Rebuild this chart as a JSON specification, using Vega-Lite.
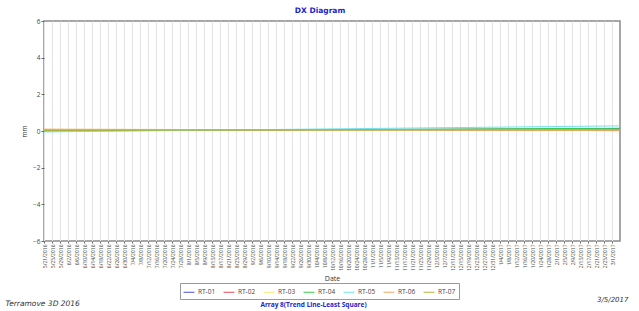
{
  "$schema": "https://vega.github.io/schema/vega-lite/v6.json",
  "width": 576,
  "height": 220,
  "autosize": "none",
  "padding": {"left": 44, "top": 21, "right": 19, "bottom": 70},
  "background": "white",
  "title": {"text": "DX Diagram", "anchor": "middle", "frame": "group", "dx": -12, "offset": 4, "fontSize": 7.5, "font": "DejaVu Sans", "fontWeight": "bold", "color": "#2222cc"},
  "config": {
    "view": {"stroke": "#8a8a8a", "strokeWidth": 1.5},
    "axis": {"labelFont": "Open Sans", "titleFont": "Open Sans", "labelColor": "#444", "titleColor": "#333", "domain": false, "tickColor": "#666"}
  },
  "data": {"values": [
    {"series": "RT-01", "date": "2016-05-21", "value": 0.02},
    {"series": "RT-01", "date": "2017-03-05", "value": 0.12},
    {"series": "RT-02", "date": "2016-05-21", "value": 0.08},
    {"series": "RT-02", "date": "2017-03-05", "value": 0.05},
    {"series": "RT-03", "date": "2016-05-21", "value": 0.06},
    {"series": "RT-03", "date": "2017-03-05", "value": 0.08},
    {"series": "RT-04", "date": "2016-05-21", "value": 0.0},
    {"series": "RT-04", "date": "2017-03-05", "value": 0.15},
    {"series": "RT-05", "date": "2016-05-21", "value": -0.05},
    {"series": "RT-05", "date": "2017-03-05", "value": 0.28},
    {"series": "RT-06", "date": "2016-05-21", "value": 0.1},
    {"series": "RT-06", "date": "2017-03-05", "value": 0.02},
    {"series": "RT-07", "date": "2016-05-21", "value": 0.03},
    {"series": "RT-07", "date": "2017-03-05", "value": 0.08}
  ]},
  "layer": [
    {
      "mark": {"type": "line", "strokeWidth": 1},
      "encoding": {
        "x": {
          "field": "date", "type": "temporal",
          "scale": {"type": "utc", "domain": [{"year": 2016, "month": 5, "date": 21, "utc": true}, {"year": 2017, "month": 3, "date": 5, "utc": true}]},
          "axis": {
            "title": "Date", "titleFontSize": 7, "titleFontWeight": "normal", "titleY": 37, "titleBaseline": "middle",
            "format": "%-m/%-d/%Y", "labelAngle": -90, "labelFontSize": 5, "labelPadding": 1, "labelOverlap": false, "labelFlush": false,
            "tickSize": 2, "grid": true, "gridColor": "#e4e4e4", "gridWidth": 1,
            "values": [
              {"year": 2016, "month": 5, "date": 21, "utc": true}, {"year": 2016, "month": 5, "date": 25, "utc": true}, {"year": 2016, "month": 5, "date": 29, "utc": true},
              {"year": 2016, "month": 6, "date": 2, "utc": true}, {"year": 2016, "month": 6, "date": 6, "utc": true}, {"year": 2016, "month": 6, "date": 10, "utc": true},
              {"year": 2016, "month": 6, "date": 14, "utc": true}, {"year": 2016, "month": 6, "date": 18, "utc": true}, {"year": 2016, "month": 6, "date": 22, "utc": true},
              {"year": 2016, "month": 6, "date": 26, "utc": true}, {"year": 2016, "month": 6, "date": 30, "utc": true}, {"year": 2016, "month": 7, "date": 4, "utc": true},
              {"year": 2016, "month": 7, "date": 8, "utc": true}, {"year": 2016, "month": 7, "date": 12, "utc": true}, {"year": 2016, "month": 7, "date": 16, "utc": true},
              {"year": 2016, "month": 7, "date": 20, "utc": true}, {"year": 2016, "month": 7, "date": 24, "utc": true}, {"year": 2016, "month": 7, "date": 28, "utc": true},
              {"year": 2016, "month": 8, "date": 1, "utc": true}, {"year": 2016, "month": 8, "date": 5, "utc": true}, {"year": 2016, "month": 8, "date": 9, "utc": true},
              {"year": 2016, "month": 8, "date": 13, "utc": true}, {"year": 2016, "month": 8, "date": 17, "utc": true}, {"year": 2016, "month": 8, "date": 21, "utc": true},
              {"year": 2016, "month": 8, "date": 25, "utc": true}, {"year": 2016, "month": 8, "date": 29, "utc": true}, {"year": 2016, "month": 9, "date": 2, "utc": true},
              {"year": 2016, "month": 9, "date": 6, "utc": true}, {"year": 2016, "month": 9, "date": 10, "utc": true}, {"year": 2016, "month": 9, "date": 14, "utc": true},
              {"year": 2016, "month": 9, "date": 18, "utc": true}, {"year": 2016, "month": 9, "date": 22, "utc": true}, {"year": 2016, "month": 9, "date": 26, "utc": true},
              {"year": 2016, "month": 9, "date": 30, "utc": true}, {"year": 2016, "month": 10, "date": 4, "utc": true}, {"year": 2016, "month": 10, "date": 8, "utc": true},
              {"year": 2016, "month": 10, "date": 12, "utc": true}, {"year": 2016, "month": 10, "date": 16, "utc": true}, {"year": 2016, "month": 10, "date": 20, "utc": true},
              {"year": 2016, "month": 10, "date": 24, "utc": true}, {"year": 2016, "month": 10, "date": 28, "utc": true}, {"year": 2016, "month": 11, "date": 1, "utc": true},
              {"year": 2016, "month": 11, "date": 5, "utc": true}, {"year": 2016, "month": 11, "date": 9, "utc": true}, {"year": 2016, "month": 11, "date": 13, "utc": true},
              {"year": 2016, "month": 11, "date": 17, "utc": true}, {"year": 2016, "month": 11, "date": 21, "utc": true}, {"year": 2016, "month": 11, "date": 25, "utc": true},
              {"year": 2016, "month": 11, "date": 29, "utc": true}, {"year": 2016, "month": 12, "date": 3, "utc": true}, {"year": 2016, "month": 12, "date": 7, "utc": true},
              {"year": 2016, "month": 12, "date": 11, "utc": true}, {"year": 2016, "month": 12, "date": 15, "utc": true}, {"year": 2016, "month": 12, "date": 19, "utc": true},
              {"year": 2016, "month": 12, "date": 23, "utc": true}, {"year": 2016, "month": 12, "date": 27, "utc": true}, {"year": 2016, "month": 12, "date": 31, "utc": true},
              {"year": 2017, "month": 1, "date": 4, "utc": true}, {"year": 2017, "month": 1, "date": 8, "utc": true}, {"year": 2017, "month": 1, "date": 12, "utc": true},
              {"year": 2017, "month": 1, "date": 16, "utc": true}, {"year": 2017, "month": 1, "date": 20, "utc": true}, {"year": 2017, "month": 1, "date": 24, "utc": true},
              {"year": 2017, "month": 1, "date": 28, "utc": true}, {"year": 2017, "month": 2, "date": 1, "utc": true}, {"year": 2017, "month": 2, "date": 5, "utc": true},
              {"year": 2017, "month": 2, "date": 9, "utc": true}, {"year": 2017, "month": 2, "date": 13, "utc": true}, {"year": 2017, "month": 2, "date": 17, "utc": true},
              {"year": 2017, "month": 2, "date": 21, "utc": true}, {"year": 2017, "month": 2, "date": 25, "utc": true}, {"year": 2017, "month": 3, "date": 1, "utc": true}
            ]
          }
        },
        "y": {
          "field": "value", "type": "quantitative",
          "scale": {"domain": [-6, 6], "nice": false, "zero": false},
          "axis": {"values": [-6, -4, -2, 0, 2, 4, 6], "labelFontSize": 6.5, "tickSize": 3, "labelPadding": 1, "grid": false,
                   "title": "mm", "titleFontSize": 6.5, "titleFontWeight": "normal", "titleX": -20, "titleY": 110, "titleAngle": -90, "titleAlign": "center", "titleBaseline": "middle"}
        },
        "color": {
          "field": "series", "type": "nominal",
          "scale": {"domain": ["RT-01", "RT-02", "RT-03", "RT-04", "RT-05", "RT-06", "RT-07"],
                    "range": ["#4b4bd6", "#e8484f", "#f2ee70", "#3cc84a", "#6fe3ee", "#f0a860", "#b4b43a"]},
          "legend": {"title": null, "orient": "none", "legendX": 136, "legendY": 262, "direction": "horizontal",
                     "symbolType": "stroke", "symbolSize": 120, "symbolStrokeWidth": 1, "labelFont": "Open Sans", "labelFontSize": 6.5, "labelColor": "#444",
                     "labelOffset": 3, "columnPadding": 5, "padding": 3, "strokeColor": "#999"}
        }
      }
    },
    {
      "mark": {"type": "line", "strokeOpacity": 0},
      "encoding": {
        "x": {"field": "date", "type": "temporal",
              "axis": {"orient": "top", "labels": false, "ticks": false, "grid": false, "domain": false,
                       "title": "Array 8(Trend Line-Least Square)", "titleX": 269, "titleY": 283, "titleAlign": "center", "titleBaseline": "middle",
                       "titleColor": "#2222cc", "titleFontWeight": "bold", "titleFontSize": 6.5, "titleFont": "Open Sans"}},
        "y": {"field": "value", "type": "quantitative",
              "axis": {"orient": "right", "labels": false, "ticks": false, "grid": false, "domain": false,
                       "title": "3/5/2017", "titleAngle": 0, "titleX": 8, "titleY": 278, "titleAlign": "right", "titleBaseline": "middle",
                       "titleFontStyle": "italic", "titleFontWeight": "normal", "titleFontSize": 7, "titleFont": "DejaVu Sans", "titleColor": "#333"}},
        "detail": {"field": "series"}
      }
    },
    {
      "mark": {"type": "line", "strokeOpacity": 0},
      "encoding": {
        "x": {"field": "date", "type": "temporal",
              "axis": {"orient": "bottom", "labels": false, "ticks": false, "grid": false, "domain": false,
                       "title": "Terramove 3D 2016", "titleX": -39, "titleY": 62, "titleAlign": "left", "titleBaseline": "middle",
                       "titleFontStyle": "italic", "titleFontWeight": "normal", "titleFontSize": 7.5, "titleFont": "DejaVu Sans", "titleColor": "#333"}},
        "y": {"field": "value", "type": "quantitative", "axis": null},
        "detail": {"field": "series"}
      }
    }
  ],
  "resolve": {"axis": {"x": "independent", "y": "independent"}}
}
